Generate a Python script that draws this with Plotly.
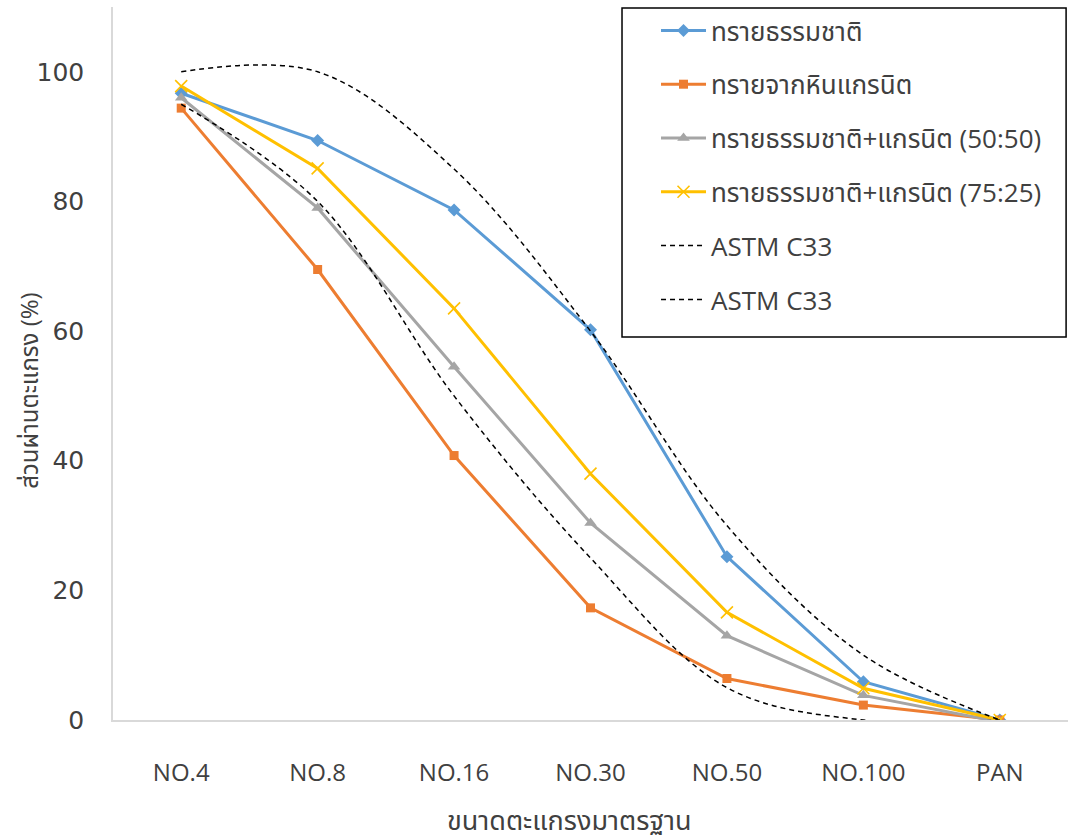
import plotly.graph_objects as go

categories = ["NO.4", "NO.8", "NO.16", "NO.30", "NO.50", "NO.100", "PAN"]
natural_sand = [96.7, 89.4, 78.7, 60.2, 25.2, 5.9, 0.0]
granite_sand = [94.4, 69.5, 40.8, 17.3, 6.4, 2.3, 0.0]
mix_50_50 = [96.0, 79.0, 54.5, 30.4, 13.0, 3.8, -0.3]
mix_75_25 = [97.8, 85.1, 63.5, 38.0, 16.6, 4.9, 0.0]
astm_upper = [100, 100, 85, 60, 30, 10, 0]
astm_lower = [95, 80, 50, 25, 5, 0, 0]

names = ["ทรายธรรมชาติ", "ทรายจากหินแกรนิต", "ทรายธรรมชาติ+แกรนิต (50:50)",
         "ทรายธรรมชาติ+แกรนิต (75:25)", "ASTM C33", "ASTM C33"]
x_title = "ขนาดตะแกรงมาตรฐาน"
y_title = "ส่วนผ่านตะแกรง (%)"

THAI = "Open Sans, Noto Sans Thai, Noto Sans, sans-serif"
TXT = "#404040"

fig = go.Figure()
series = [
    (natural_sand, "#5B9BD5", dict(symbol="diamond", size=10)),
    (granite_sand, "#ED7D31", dict(symbol="square", size=9)),
    (mix_50_50, "#A5A5A5", dict(symbol="triangle-up", size=11)),
    (mix_75_25, "#FFC000", dict(symbol="x-thin", size=12, line=dict(width=1.6, color="#FFC000"))),
]
for i, (vals, col, mk) in enumerate(series):
    fig.add_trace(go.Scatter(
        x=categories, y=vals, mode="lines+markers", name=names[i],
        line=dict(color=col, width=3), marker=dict(color=col, **mk),
        legendgroup=f"g{i}"))
for j, vals in enumerate([astm_upper, astm_lower]):
    fig.add_trace(go.Scatter(
        x=categories, y=vals, mode="lines", name=names[4 + j],
        line=dict(color="black", width=1.5, dash="5px,4px", shape="spline", smoothing=1.0),
        legendgroup=f"a{j}"))

# legend frame
fig.add_shape(type="rect", xref="paper", yref="paper",
              x0=0.533, x1=0.998, y0=0.537, y1=0.9986,
              line=dict(color="black", width=1.5), fillcolor="rgba(0,0,0,0)", layer="above")

fig.add_annotation(text=x_title, xref="paper", yref="paper", x=0.478, y=-0.14,
                   xanchor="center", yanchor="middle", showarrow=False,
                   font=dict(size=27, color=TXT, family=THAI))
fig.add_annotation(text=y_title, xref="paper", yref="paper", x=-0.088, y=0.463,
                   xanchor="center", yanchor="middle", showarrow=False, textangle=-90,
                   font=dict(size=24, color=TXT, family=THAI))

fig.update_layout(
    width=1068, height=840,
    margin=dict(l=113, r=0, t=7, b=120),
    paper_bgcolor="white", plot_bgcolor="white",
    font=dict(family=THAI, color=TXT),
    showlegend=True,
    legend=dict(
        x=0.5686, y=1.0, xanchor="left", yanchor="top",
        borderwidth=0, bgcolor="rgba(255,255,255,0)",
        font=dict(size=26, color=TXT, family=THAI),
        itemwidth=45, tracegroupgap=17, traceorder="grouped",
    ),
    xaxis=dict(
        type="category", range=[-0.5, 6.5],
        showline=True, linecolor="#D9D9D9", linewidth=1.5,
        showgrid=False, ticks="", zeroline=False, ticklabelstandoff=30,
        tickfont=dict(size=24, color=TXT),
    ),
    yaxis=dict(
        range=[0, 110], tickvals=[0, 20, 40, 60, 80, 100],
        showline=True, linecolor="#D9D9D9", linewidth=1.5,
        showgrid=False, zeroline=False, ticks="", ticklabelstandoff=22,
        tickfont=dict(size=25, family="DejaVu Sans, sans-serif", color=TXT),
    ),
)

fig.write_html("out.html")
